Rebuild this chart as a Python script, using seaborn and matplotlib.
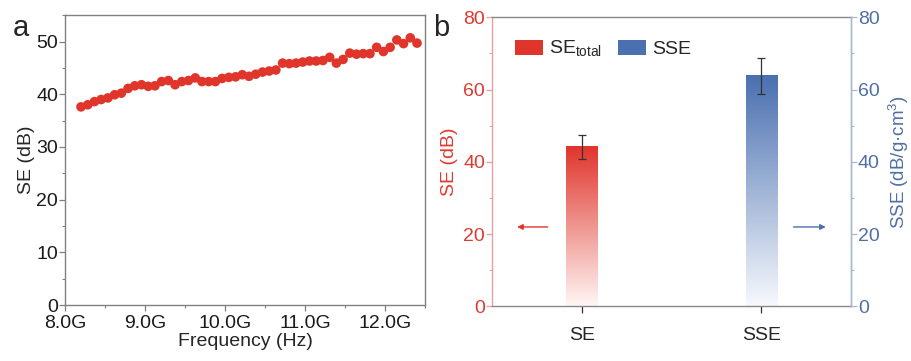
import numpy as np
import pandas as pd
import matplotlib
matplotlib.use("Agg")
import matplotlib.pyplot as plt
from matplotlib.colors import LinearSegmentedColormap
from matplotlib.patches import Patch
from matplotlib.ticker import MultipleLocator, FuncFormatter
import seaborn as sns

# panel a: SE vs frequency (sweep 8.2 - 12.4 GHz, 51 points)
freq_ghz = np.linspace(8.2, 12.4, 51)
se_db = [37.6, 38.0, 38.6, 39.0, 39.3, 39.9, 40.2, 41.1, 41.6, 41.8,
         41.5, 41.6, 42.4, 42.6, 41.8, 42.4, 42.6, 43.1, 42.4, 42.4,
         42.4, 43.0, 43.2, 43.3, 43.7, 43.4, 43.8, 44.2, 44.4, 44.6,
         45.9, 45.8, 45.9, 46.1, 46.3, 46.3, 46.4, 47.0, 45.9, 46.6,
         47.8, 47.6, 47.7, 47.7, 48.9, 48.1, 48.9, 50.3, 49.6, 50.7,
         49.7]

# panel b: bars
bar_names = ["SE", "SSE"]
bar_values = [44.1, 63.8]
bar_errors = [3.4, 4.9]

RED = "#e0352b"
BLUE = "#4a70b0"
RED_TXT = "#e03a30"
BLUE_TXT = "#4f6fa6"

sns.set_style("ticks")
plt.rcParams["font.family"] = ["Liberation Sans", "DejaVu Sans"]
plt.rcParams["mathtext.fontset"] = "custom"
plt.rcParams["mathtext.rm"] = "Liberation Sans"
plt.rcParams["font.size"] = 13

FS = 14

fig = plt.figure(figsize=(9.12, 3.61), dpi=100)
ax1 = fig.add_axes([0.0713, 0.155, 0.3947, 0.803])
ax2 = fig.add_axes([0.5395, 0.151, 0.3935, 0.801])

# ---- panel a ----
df_a = pd.DataFrame({"freq": freq_ghz, "se": se_db})
sns.scatterplot(data=df_a, x="freq", y="se", ax=ax1, color=RED, s=48,
                edgecolor="none", linewidth=0, zorder=3)
ax1.set_xlim(8.0, 12.5)
ax1.set_ylim(0, 55)
ax1.xaxis.set_major_locator(MultipleLocator(1.0))
ax1.xaxis.set_minor_locator(MultipleLocator(0.5))
ax1.xaxis.set_major_formatter(FuncFormatter(lambda v, p: f"{v:.1f}G"))
ax1.yaxis.set_major_locator(MultipleLocator(10))
ax1.yaxis.set_minor_locator(MultipleLocator(5))
ax1.set_xlabel("Frequency (Hz)", fontsize=FS, labelpad=1)
ax1.set_ylabel("SE (dB)", fontsize=FS, labelpad=1)
for s in ax1.spines.values():
    s.set_color("#808080")
    s.set_linewidth(1.0)
ax1.tick_params(which="major", length=4, width=0.9, color="#808080",
                labelsize=FS, pad=1, labelcolor="#1a1a1a")
ax1.tick_params(axis="x", pad=3)
ax1.tick_params(which="minor", length=2.5, width=0.8, color="#808080")
ax1.text(-0.145, 1.005, "a", transform=ax1.transAxes, fontsize=21,
         va="top", ha="left")

# ---- panel b ----
df_b = pd.DataFrame({"name": bar_names, "value": bar_values})
sns.barplot(data=df_b, x="name", y="value", ax=ax2, width=0.173,
            color="white", errorbar=None, zorder=2)
cmaps = [LinearSegmentedColormap.from_list("r", ["#fff6f5", RED]),
         LinearSegmentedColormap.from_list("b", ["#f7f9fd", BLUE])]
grad = np.linspace(0, 1, 256).reshape(-1, 1)
for patch, cm in zip(ax2.patches, cmaps):
    x0, w, h = patch.get_x(), patch.get_width(), patch.get_height()
    patch.set_facecolor("none")
    patch.set_edgecolor("none")
    ax2.imshow(grad, extent=[x0, x0 + w, 0, h], origin="lower",
               aspect="auto", cmap=cm, zorder=2)
ax2.errorbar(range(len(bar_values)), bar_values, yerr=bar_errors, fmt="none",
             ecolor="#333333", elinewidth=0.9, capsize=3, capthick=0.9,
             zorder=4)
ax2.set_xlim(-0.5, 1.5)
ax2.set_ylim(0, 80)
ax2.yaxis.set_major_locator(MultipleLocator(20))
ax2.yaxis.set_minor_locator(MultipleLocator(10))
ax2.set_xlabel("")
ax2.set_ylabel("SE (dB)", color=RED_TXT, fontsize=FS, labelpad=4)
ax2.tick_params(axis="x", length=5, width=0.9, color="#333333",
                labelsize=FS, pad=10)
ax2.tick_params(axis="y", which="major", length=4, width=0.9,
                color="#e8a0a0", labelcolor=RED_TXT, labelsize=FS, pad=1)
ax2.tick_params(axis="y", which="minor", length=2.5, width=0.8,
                color="#e8a0a0")
ax2.spines["left"].set_color("#e8a0a0")
ax2.spines["right"].set_color("#a8b8d2")
ax2.spines["top"].set_color("#888888")
ax2.spines["bottom"].set_color("#888888")
for s in ax2.spines.values():
    s.set_linewidth(1.0)

ax3 = ax2.twinx()
ax3.set_ylim(0, 80)
ax3.yaxis.set_major_locator(MultipleLocator(20))
ax3.yaxis.set_minor_locator(MultipleLocator(10))
ax3.set_ylabel("SSE (dB/g·cm$^{3}$)", color=BLUE_TXT, fontsize=13.5,
               labelpad=5)
ax3.tick_params(axis="y", which="major", length=4, width=0.9,
                color="#a8b8d2", labelcolor=BLUE_TXT, labelsize=FS, pad=1)
ax3.tick_params(axis="y", which="minor", length=2.5, width=0.8,
                color="#a8b8d2")
for k in ["left", "top", "bottom"]:
    ax3.spines[k].set_visible(False)
ax3.spines["right"].set_color("#a8b8d2")
ax3.spines["right"].set_linewidth(1.0)

ax2.annotate("", xy=(-0.36, 22), xytext=(-0.19, 22),
             arrowprops=dict(arrowstyle="-|>", color=RED, lw=1,
                             mutation_scale=8, shrinkA=0, shrinkB=0))
ax2.annotate("", xy=(1.36, 22), xytext=(1.18, 22),
             arrowprops=dict(arrowstyle="-|>", color=BLUE, lw=1,
                             mutation_scale=8, shrinkA=0, shrinkB=0))

handles = [Patch(facecolor=RED, edgecolor="none"),
           Patch(facecolor=BLUE, edgecolor="none")]
ax2.legend(handles, ["SE$_{\\mathregular{total}}$", "SSE"], loc="upper left",
           bbox_to_anchor=(0.015, 0.985), ncol=2, frameon=False, fontsize=FS,
           handlelength=1.45, handleheight=0.75, handletextpad=0.3,
           columnspacing=0.8)
ax2.text(-0.165, 1.01, "b", transform=ax2.transAxes, fontsize=21,
         va="top", ha="left")

fig.savefig("out.png", dpi=100)
